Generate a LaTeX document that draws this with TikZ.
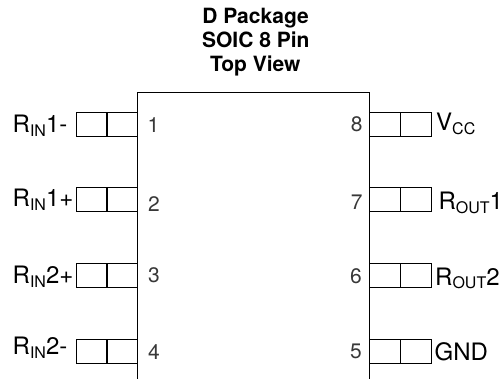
\documentclass[tikz,border=0pt]{standalone}
\usepackage{fontspec}
\setmainfont{TeX Gyre Heros}
\newcommand{\lbl}[2]{#1\raisebox{-0.16em}{\fontsize{16}{16}\selectfont #2}}
\definecolor{numgrey}{HTML}{383838}
\tikzset{
  x=1pt,y=-1pt,
  pinbox/.style={draw=black,line width=1pt,minimum width=31pt,minimum height=24pt,inner sep=0pt,outer sep=0pt},
  pinlabel/.style={anchor=base west,inner sep=0pt,font=\fontsize{24}{24}\selectfont},
  pinnum/.style={anchor=base,inner sep=0pt,text=numgrey,font=\fontsize{21}{21}\selectfont},
  titletext/.style={anchor=base,inner sep=0pt,font=\fontsize{21}{21}\selectfont\bfseries}
}
\begin{document}
\begin{tikzpicture}
\useasboundingbox (0,0) rectangle (503,379);
% title
\node[titletext] (t1) at (255.5,23.5) {D Package};
\node[titletext] (t2) at (255.8,48) {SOIC 8 Pin};
\node[titletext] (t3) at (255.3,72) {Top View};
% body, open at the bottom
\coordinate (bl) at (137.5,379);
\coordinate (tl) at (137.5,92.5);
\coordinate (tr) at (369.5,92.5);
\coordinate (br) at (369.5,379);
\draw[line width=1pt] (bl) -- (tl) -- (tr) -- (br);
% left pins
\node[pinbox] (p1a) at (91.5,125) {};  \node[pinbox] (p1b) at (122,125) {};
\node[pinbox] (p2a) at (91.5,200) {};  \node[pinbox] (p2b) at (122,200) {};
\node[pinbox] (p3a) at (91.5,275.5) {};\node[pinbox] (p3b) at (122,275.5) {};
\node[pinbox] (p4a) at (91.5,351) {};  \node[pinbox] (p4b) at (122,351) {};
% right pins
\node[pinbox] (p8a) at (385,125) {};   \node[pinbox] (p8b) at (416,125) {};
\node[pinbox] (p7a) at (385,200) {};   \node[pinbox] (p7b) at (416,200) {};
\node[pinbox] (p6a) at (385,275.5) {}; \node[pinbox] (p6b) at (416,275.5) {};
\node[pinbox] (p5a) at (385,351) {};   \node[pinbox] (p5b) at (416,351) {};
% numbers
\node[pinnum] (n1) at (153.5,132.7) {1};
\node[pinnum] (n2) at (154,211.7) {2};
\node[pinnum] (n3) at (154,282.3) {3};
\node[pinnum] (n4) at (154,359) {4};
\node[pinnum] (n8) at (356.7,131.3) {8};
\node[pinnum] (n7) at (356.7,209.3) {7};
\node[pinnum] (n6) at (356,283.3) {6};
\node[pinnum] (n5) at (356,358.3) {5};
% labels
\node[pinlabel] (l1) at (12.5,132.7) {\lbl{R}{IN}1-};
\node[pinlabel] (l2) at (12.5,206.7) {\lbl{R}{IN}1+};
\node[pinlabel] (l3) at (12.5,283.3) {\lbl{R}{IN}2+};
\node[pinlabel] (l4) at (12.5,354.3) {\lbl{R}{IN}2-};
\node[pinlabel] (l8) at (436,130.7) {\lbl{V}{CC}};
\node[pinlabel] (l7) at (438.3,210) {\lbl{R}{OUT}1};
\node[pinlabel] (l6) at (435,285) {\lbl{R}{OUT}2};
\node[pinlabel] (l5) at (434.5,360) {GND};
\end{tikzpicture}
\end{document}
